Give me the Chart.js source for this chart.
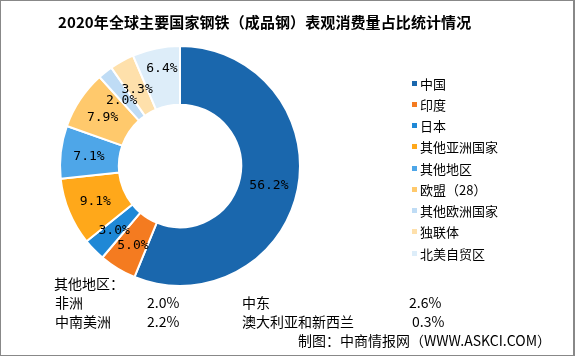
<!DOCTYPE html>
<html><head><meta charset="utf-8">
<script src="https://cdn.jsdelivr.net/npm/chart.js@4.4.1/dist/chart.umd.min.js"></script>
<style>
html,body{margin:0;padding:0;background:#fff;}
#wrap{position:relative;width:575px;height:356px;overflow:hidden;background:#fff;}
#frame{position:absolute;left:0;top:0;width:575px;height:356px;box-sizing:border-box;border:1px solid #888;border-right-width:2px;pointer-events:none;}
#c{position:absolute;left:0;top:0;}
.t{position:absolute;white-space:nowrap;font-family:"Noto Sans CJK SC",sans-serif;color:#000;line-height:1;}
#title{left:58px;top:13.5px;font-size:15px;font-weight:bold;letter-spacing:0.1px;}
.lg{font-size:13px;}
.mk{position:absolute;width:5px;height:5px;}
.bt{font-size:14px;}
</style></head>
<body>
<div id="wrap">
<canvas id="c" width="575" height="356"></canvas>
<div id="title" class="t">2020年全球主要国家钢铁（成品钢）表观消费量占比统计情况</div>
<div id="legend"></div>
<div id="bottom"></div>
<div id="frame"></div>
</div>
<script>
const categories = ['中国','印度','日本','其他亚洲国家','其他地区','欧盟（28）','其他欧洲国家','独联体','北美自贸区'];
const shares = [56.2, 5.0, 3.0, 9.1, 7.1, 7.9, 2.0, 3.3, 6.4];
const otherRegions = ['非洲','中南美洲','中东','澳大利亚和新西兰'];
const otherShares = [2.0, 2.2, 2.6, 0.3];

const colors = ['#1a67ad','#f47b20','#1f88d6','#ffa81a','#4ea6e8','#ffc96c','#bfdcf5','#fee0ab','#ddedf9'];
// small label nudges (pixels) to avoid overlap, as in the original
const labelNudge = [[0,2],[0,2],[-1,1],[-1,1],[-1,1],[-2,2],[-2,6],[1,3],[0,-9]];

// legend
const lg = document.getElementById('legend');
categories.forEach((name, i) => {
  const cy = 83 + i * 21.25;
  const m = document.createElement('div');
  m.className = 'mk';
  m.style.left = '412px'; m.style.top = (cy - 2.5) + 'px';
  m.style.background = colors[i];
  lg.appendChild(m);
  const t = document.createElement('div');
  t.className = 't lg';
  t.style.left = '420px'; t.style.top = (cy - 6.5) + 'px';
  t.textContent = name;
  lg.appendChild(t);
});

// bottom notes
const bt = document.getElementById('bottom');
function addText(txt, x, cy, size) {
  const d = document.createElement('div');
  d.className = 't bt';
  d.style.left = x + 'px'; d.style.top = (cy - size / 2) + 'px';
  d.style.fontSize = size + 'px';
  d.textContent = txt;
  bt.appendChild(d);
}
addText('其他地区：', 54, 283, 14);
addText(otherRegions[0], 55, 302, 14);
addText(otherShares[0].toFixed(1) + '%', 147, 302, 14);
addText(otherRegions[1], 55, 321, 14);
addText(otherShares[1].toFixed(1) + '%', 147, 321, 14);
addText(otherRegions[2], 242, 302, 14);
addText(otherShares[2].toFixed(1) + '%', 409, 302, 14);
addText(otherRegions[3], 242, 321, 14);
addText(otherShares[3].toFixed(1) + '%', 412, 321, 14);
addText('制图：中商情报网（WWW.ASKCI.COM）', 298, 340, 14);

const sliceLabels = {
  id: 'sliceLabels',
  afterDatasetsDraw(chart) {
    const ctx = chart.ctx;
    const meta = chart.getDatasetMeta(0);
    ctx.save();
    ctx.font = '13px "DejaVu Sans Mono", monospace';
    ctx.fillStyle = '#000';
    ctx.textAlign = 'center';
    ctx.textBaseline = 'middle';
    meta.data.forEach((arc, i) => {
      const p = arc.tooltipPosition(true);
      const n = labelNudge[i] || [0, 0];
      ctx.fillText(shares[i].toFixed(1) + '%', p.x + n[0], p.y + n[1]);
    });
    ctx.restore();
  }
};

new Chart(document.getElementById('c'), {
  type: 'doughnut',
  data: {
    labels: categories,
    datasets: [{
      data: shares,
      backgroundColor: colors,
      borderColor: '#ffffff',
      borderWidth: 2
    }]
  },
  options: {
    responsive: false,
    animation: false,
    cutout: '51%',
    layout: { padding: { left: 59, right: 274, top: 44, bottom: 68 } },
    plugins: {
      legend: { display: false },
      tooltip: { enabled: false },
      title: { display: false }
    }
  },
  plugins: [sliceLabels]
});
</script>
</body></html>
